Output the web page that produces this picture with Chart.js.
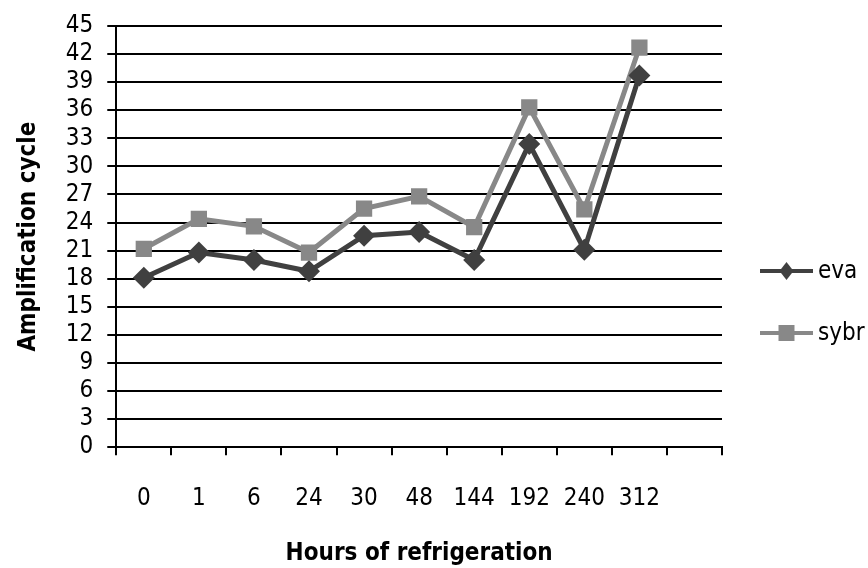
<!DOCTYPE html>
<html>
<head>
<meta charset="utf-8">
<script src="https://cdn.jsdelivr.net/npm/chart.js@4/dist/chart.umd.min.js"></script>
<style>
  html, body { margin: 0; padding: 0; background: #ffffff; }
  #wrap { width: 868px; height: 568px; position: relative; }
</style>
</head>
<body>
<div id="wrap"><canvas id="c" width="868" height="568"></canvas></div>
<script>
const categories = ['0', '1', '6', '24', '30', '48', '144', '192', '240', '312'];
const evaValues  = [18.1, 20.8, 20.0, 18.8, 22.6, 23.0, 20.0, 32.4, 21.1, 39.7];
const sybrValues = [21.2, 24.4, 23.6, 20.8, 25.5, 26.8, 23.5, 36.3, 25.4, 42.7];
const seriesNames = ['eva', 'sybr'];
const xTitle = 'Hours of refrigeration';
const yTitle = 'Amplification cycle';

const FONT = "'DejaVu Sans Condensed', 'DejaVu Sans', sans-serif";
const EVA_COLOR = '#404040';
const SYBR_COLOR = '#888888';

const legendPlugin = {
  id: 'sideLegend',
  afterDraw(chart) {
    const ctx = chart.ctx;
    const area = chart.chartArea;
    const x0 = area.right + 38, x1 = area.right + 91;
    const ys = [area.top + 245, area.top + 307];
    ctx.save();
    chart.data.datasets.forEach((ds, i) => {
      const y = ys[i];
      ctx.strokeStyle = ds.borderColor;
      ctx.lineWidth = 4;
      ctx.beginPath();
      ctx.moveTo(x0, y);
      ctx.lineTo(x1, y);
      ctx.stroke();
      const cx = (x0 + x1) / 2;
      ctx.fillStyle = ds.pointBackgroundColor;
      ctx.beginPath();
      if (ds.pointStyle === 'rectRot') {
        ctx.moveTo(cx, y - 9);
        ctx.lineTo(cx + 7, y);
        ctx.lineTo(cx, y + 9);
        ctx.lineTo(cx - 7, y);
        ctx.closePath();
      } else {
        ctx.rect(cx - 8, y - 8, 16, 16);
      }
      ctx.fill();
      ctx.fillStyle = '#000000';
      ctx.font = '24px ' + FONT;
      ctx.textAlign = 'left';
      ctx.textBaseline = 'middle';
      ctx.fillText(ds.label, x1 + 5, y + 1);
    });
    ctx.restore();
  }
};

new Chart(document.getElementById('c'), {
  type: 'line',
  data: {
    labels: [...categories, ''],
    datasets: [
      {
        label: seriesNames[0],
        data: evaValues,
        borderColor: EVA_COLOR,
        backgroundColor: EVA_COLOR,
        pointBackgroundColor: EVA_COLOR,
        pointBorderColor: EVA_COLOR,
        borderWidth: 5,
        pointStyle: 'rectRot',
        pointRadius: 11,
        pointBorderWidth: 0,
        tension: 0,
        fill: false
      },
      {
        label: seriesNames[1],
        data: sybrValues,
        borderColor: SYBR_COLOR,
        backgroundColor: SYBR_COLOR,
        pointBackgroundColor: SYBR_COLOR,
        pointBorderColor: SYBR_COLOR,
        borderWidth: 5,
        pointStyle: 'rect',
        pointRadius: 11.5,
        pointBorderWidth: 0,
        tension: 0,
        fill: false
      }
    ]
  },
  options: {
    responsive: false,
    animation: false,
    devicePixelRatio: 1,
    layout: { padding: { top: 8, right: 146, bottom: 2, left: 14 } },
    plugins: {
      legend: { display: false },
      tooltip: { enabled: false }
    },
    scales: {
      x: {
        offset: true,
        grid: {
          offset: true,
          drawOnChartArea: false,
          drawTicks: true,
          tickLength: 8,
          color: '#000000',
          lineWidth: 2
        },
        border: { color: '#000000', width: 2 },
        ticks: {
          autoSkip: false,
          maxRotation: 0,
          padding: 29,
          color: '#000000',
          font: { family: FONT, size: 24 }
        },
        title: {
          display: true,
          text: xTitle,
          color: '#000000',
          font: { family: FONT, size: 24, weight: 'bold', lineHeight: 1.0 },
          padding: { top: 0, bottom: 0 }
        }
      },
      y: {
        min: 0,
        max: 45,
        grid: {
          color: '#000000',
          lineWidth: 2,
          drawTicks: true,
          tickLength: 9
        },
        border: { color: '#000000', width: 2 },
        ticks: {
          stepSize: 3,
          autoSkip: false,
          padding: 14,
          color: '#000000',
          font: { family: FONT, size: 24, lineHeight: 1.0 }
        },
        title: {
          display: true,
          text: yTitle,
          color: '#000000',
          font: { family: FONT, size: 24, weight: 'bold' },
          padding: { top: 0, bottom: 9 }
        }
      }
    }
  },
  plugins: [legendPlugin]
});
</script>
</body>
</html>
